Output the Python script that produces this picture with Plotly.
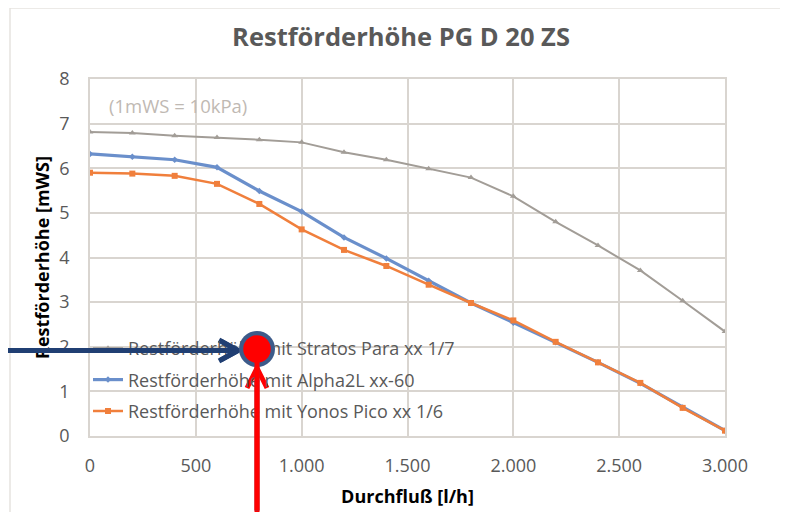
import plotly.graph_objects as go

flow = [0, 200, 400, 600, 800, 1000, 1200, 1400, 1600, 1800, 2000, 2200, 2400, 2600, 2800, 3000]
stratos = [6.81, 6.79, 6.73, 6.69, 6.64, 6.58, 6.36, 6.19, 5.99, 5.79, 5.37, 4.80, 4.27, 3.71, 3.03, 2.34]
alpha = [6.32, 6.26, 6.19, 6.02, 5.49, 5.03, 4.45, 3.98, 3.48, 2.98, 2.54, 2.10, 1.65, 1.18, 0.64, 0.12]
yonos = [5.90, 5.88, 5.83, 5.65, 5.20, 4.63, 4.17, 3.81, 3.39, 2.98, 2.59, 2.11, 1.65, 1.19, 0.63, 0.12]

names = ["Restförderhöhe mit Stratos Para xx 1/7",
         "Restförderhöhe mit Alpha2L xx-60",
         "Restförderhöhe mit Yonos Pico xx 1/6"]
x_ticks = [0, 500, 1000, 1500, 2000, 2500, 3000]
x_tick_text = ["0", "500", "1.000", "1.500", "2.000", "2.500", "3.000"]
y_ticks = [0, 1, 2, 3, 4, 5, 6, 7, 8]

# page body has an 8px margin, so figure coordinates = screen coordinates - 8
OFF = 8
W, H = 780, 504
L, R, T, B = 90, 725, 79, 436  # plot area in screen coordinates


def px(x):
    return (x - L) / (R - L)


def py(y):
    return (B - y) / (B - T)


FONT = "Open Sans"
GRID = "#D9D5D0"
navy = "#203F73"

fig = go.Figure()
fig.add_trace(go.Scatter(x=flow, y=stratos, name=names[0], mode="lines+markers",
                         line=dict(color="#A29D97", width=2),
                         marker=dict(symbol="triangle-up", size=6, color="#A29D97"),
                         legendgroup="a"))
fig.add_trace(go.Scatter(x=flow, y=alpha, name=names[1], mode="lines+markers",
                         line=dict(color="#6A8FCB", width=3.2),
                         marker=dict(symbol="diamond", size=5, color="#6A8FCB"),
                         legendgroup="b"))
fig.add_trace(go.Scatter(x=flow, y=yonos, name=names[2], mode="lines+markers",
                         line=dict(color="#F07F3C", width=2.5),
                         marker=dict(symbol="square", size=6, color="#F07F3C"),
                         legendgroup="c"))

shapes = []
# chart border (partially visible)
shapes.append(dict(type="rect", xref="paper", yref="paper",
                   x0=px(10), x1=px(820), y0=py(540), y1=py(8),
                   line=dict(color="#E6E3DF", width=1.5), layer="below"))
# blue arrow
shapes.append(dict(type="line", xref="paper", yref="paper",
                   x0=px(-5), y0=py(350.5), x1=px(236), y1=py(350.5),
                   line=dict(color=navy, width=5)))
shapes.append(dict(type="path", xref="paper", yref="paper",
                   path=f"M {px(219)},{py(340)} L {px(238)},{py(350.5)} L {px(219)},{py(361)}",
                   line=dict(color=navy, width=5)))
# red arrow
shapes.append(dict(type="line", xref="paper", yref="paper",
                   x0=px(257), y0=py(520), x1=px(257), y1=py(369),
                   line=dict(color="#FF0000", width=5)))
shapes.append(dict(type="path", xref="paper", yref="paper",
                   path=f"M {px(247)},{py(388)} L {px(257)},{py(368)} L {px(267)},{py(388)}",
                   line=dict(color="#FF0000", width=5)))

annotations = [dict(text="(1mWS = 10kPa)", xref="paper", yref="paper",
                    x=px(107), y=py(106), xanchor="left", yanchor="middle", showarrow=False,
                    font=dict(size=18.5, color="#BFB9B3", family=FONT))]
# blue arrow repeated as annotation lines so it lies over the legend text
annotations.append(dict(text="", xref="paper", yref="paper", x=px(236), y=py(350.5),
                        showarrow=True, arrowhead=0, arrowwidth=5, arrowcolor=navy,
                        ax=-250, ay=0, standoff=0))
annotations.append(dict(text="", xref="paper", yref="paper", x=px(238), y=py(350.5),
                        showarrow=True, arrowhead=0, arrowwidth=5, arrowcolor=navy,
                        ax=-19, ay=-10.5, standoff=0))
annotations.append(dict(text="", xref="paper", yref="paper", x=px(238), y=py(350.5),
                        showarrow=True, arrowhead=0, arrowwidth=5, arrowcolor=navy,
                        ax=-19, ay=10.5, standoff=0))
# circle marker as circular arrow heads (annotations sit above the legend)
annotations.append(dict(text="", xref="paper", yref="paper", x=px(257), y=py(349),
                        showarrow=True, arrowhead=6, arrowwidth=4.5, arrowsize=2.0,
                        arrowcolor="#3D5B8A", ax=0, ay=170, standoff=0))
annotations.append(dict(text="", xref="paper", yref="paper", x=px(257), y=py(349),
                        showarrow=True, arrowhead=6, arrowwidth=5, arrowsize=1.38,
                        arrowcolor="#FF0000", ax=0, ay=170, standoff=0))

fig.update_layout(
    width=W, height=H,
    margin=dict(l=L - OFF, r=W - (R - OFF), t=T - OFF, b=H - (B - OFF), autoexpand=False),
    paper_bgcolor="white", plot_bgcolor="white",
    font=dict(family=FONT, color="#595959"),
    title=dict(text="<b>Restförderhöhe PG D 20 ZS</b>", x=(401 - OFF) / W, xanchor="center",
               y=1 - (37 - OFF) / H, yanchor="middle",
               font=dict(size=25.5, color="#595959", family=FONT)),
    xaxis=dict(range=[0, 3000], tickvals=x_ticks, ticktext=x_tick_text,
               showgrid=True, gridcolor=GRID, gridwidth=1.5, zeroline=False,
               showline=True, linecolor=GRID, linewidth=1.5, mirror=True,
               tickfont=dict(size=18, color="#595959"), ticks="", ticklabelstandoff=13,
               title=dict(text="<b>Durchfluß [l/h]</b>", font=dict(size=18, color="#000000"), standoff=14)),
    yaxis=dict(range=[0, 8], tickvals=y_ticks,
               showgrid=True, gridcolor=GRID, gridwidth=1.5, zeroline=False,
               showline=True, linecolor=GRID, linewidth=1.5, mirror=True,
               tickfont=dict(size=18, color="#595959"), ticks="", ticklabelstandoff=15,
               title=dict(text="<b>Restförderhöhe [mWS]</b>", font=dict(size=18, color="#000000"), standoff=5)),
    legend=dict(x=px(88), xanchor="left", y=py(330), yanchor="top",
                bgcolor="rgba(0,0,0,0)", font=dict(size=18, color="#595959", family=FONT),
                traceorder="grouped", tracegroupgap=5, itemwidth=30),
    shapes=shapes,
    annotations=annotations,
)

fig.write_html("out.html")
